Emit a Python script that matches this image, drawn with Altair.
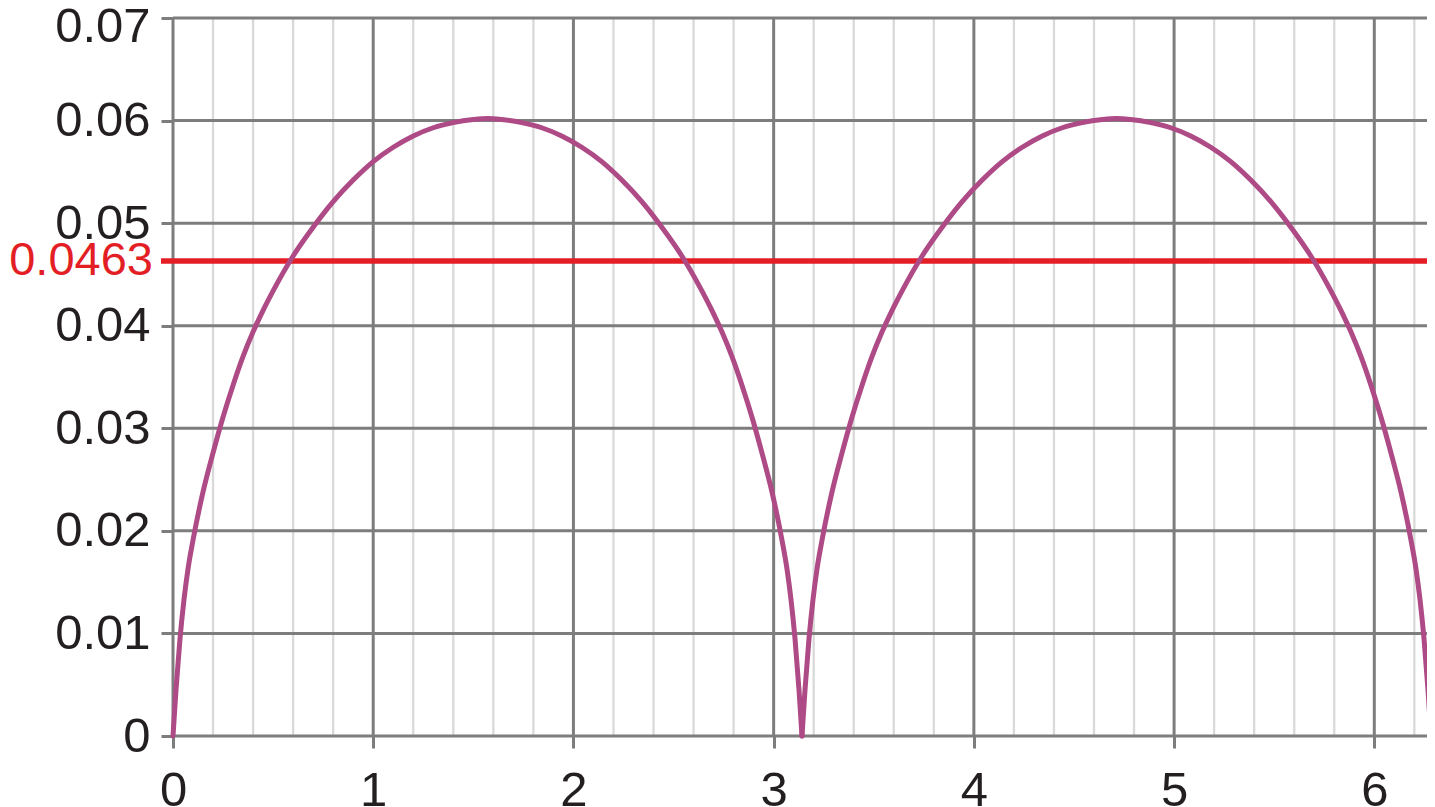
import altair as alt
import pandas as pd

# ---- data ----
hump1_x = [0, 0.015, 0.035, 0.055, 0.075, 0.1, 0.15, 0.2, 0.25, 0.3, 0.35, 0.4, 0.45, 0.5,
           0.6, 0.7, 0.8, 0.9, 1.0, 1.1, 1.2, 1.3, 1.4, 1.5, 1.5708,
           1.6416, 1.7416, 1.8416, 1.9416, 2.0416, 2.1416, 2.2416, 2.3416, 2.4416, 2.5416, 2.6416, 2.6916,
           2.7416, 2.7916, 2.8416, 2.8916, 2.9416, 2.9916, 3.0416, 3.0666, 3.0866, 3.1066, 3.1266, 3.1416]
hump1_y = [0, 0.0045, 0.0095, 0.0133, 0.0163, 0.0191, 0.0238, 0.0276, 0.0311, 0.0342, 0.0370, 0.0394, 0.0415, 0.0434,
           0.0468, 0.0496, 0.0521, 0.0542, 0.0560, 0.0574, 0.0585, 0.0593, 0.0598, 0.0601, 0.0602,
           0.0601, 0.0598, 0.0593, 0.0585, 0.0574, 0.0560, 0.0542, 0.0521, 0.0496, 0.0468, 0.0434, 0.0415,
           0.0394, 0.0370, 0.0342, 0.0311, 0.0276, 0.0238, 0.0191, 0.0163, 0.0133, 0.0095, 0.0045, 0]
hump2_x = [3.1416, 3.1566, 3.1766, 3.1966, 3.2166, 3.2416, 3.2916, 3.3416, 3.3916, 3.4416, 3.4916, 3.5416, 3.5916, 3.6416,
           3.7416, 3.8416, 3.9416, 4.0416, 4.1416, 4.2416, 4.3416, 4.4416, 4.5416, 4.6416, 4.7124,
           4.7832, 4.8832, 4.9832, 5.0832, 5.1832, 5.2832, 5.3832, 5.4832, 5.5832, 5.6832, 5.7832, 5.8332,
           5.8832, 5.9332, 5.9832, 6.0332, 6.0832, 6.1332, 6.1832, 6.2082, 6.2282, 6.2482, 6.2682, 6.2832]
hump2_y = [0, 0.0045, 0.0095, 0.0133, 0.0163, 0.0191, 0.0238, 0.0276, 0.0311, 0.0342, 0.0370, 0.0394, 0.0415, 0.0434,
           0.0468, 0.0496, 0.0521, 0.0542, 0.0560, 0.0574, 0.0585, 0.0593, 0.0598, 0.0601, 0.0602,
           0.0601, 0.0598, 0.0593, 0.0585, 0.0574, 0.0560, 0.0542, 0.0521, 0.0496, 0.0468, 0.0434, 0.0415,
           0.0394, 0.0370, 0.0342, 0.0311, 0.0276, 0.0238, 0.0191, 0.0163, 0.0133, 0.0095, 0.0045, 0]

x_ticks = [0, 1, 2, 3, 4, 5, 6]
x_minor = [0.2, 0.4, 0.6, 0.8, 1.2, 1.4, 1.6, 1.8, 2.2, 2.4, 2.6, 2.8, 3.2, 3.4, 3.6, 3.8,
           4.2, 4.4, 4.6, 4.8, 5.2, 5.4, 5.6, 5.8, 6.2]
y_ticks = [0, 0.01, 0.02, 0.03, 0.04, 0.05, 0.06, 0.07]
ref_value = [0.0463]
ref_label = ["0.0463"]

# ---- styles ----
FONT = "Liberation Sans"
MAJOR = "#7d7d7d"
MINOR = "#d9d9d9"
TXT = "#231f20"
CURVE = "#ae4a85"
RED = "#e31e24"
W, H = 1254, 718
RANGE_W = 1258

curve_df = pd.DataFrame({
    "x": hump1_x + hump2_x,
    "y": hump1_y + hump2_y,
    "hump": ["a"] * len(hump1_x) + ["b"] * len(hump2_x),
})
minor_df = pd.DataFrame({"x": x_minor})
xt_df = pd.DataFrame({"x": x_ticks})
yt_df = pd.DataFrame({"y": y_ticks})
ref_df = pd.DataFrame({"y": ref_value, "label": ref_label})

xscale = alt.Scale(domain=[0, 6.2832], range=[0, RANGE_W], nice=False, zero=False)
yscale = alt.Scale(domain=[0, 0.07], nice=False, zero=False)

x_axis = alt.Axis(values=x_ticks, format="d", grid=False, domain=False, ticks=True,
                  tickSize=12, tickWidth=3, tickColor=MAJOR, labelFont=FONT,
                  labelFontSize=49, labelColor=TXT, labelPadding=18, title=None,
                  labelFlush=False, labelOverlap=False)
y_axis = alt.Axis(values=y_ticks, format="~g", grid=False, domain=False, ticks=True,
                  tickSize=12, tickWidth=3, tickColor=MAJOR, labelFont=FONT,
                  labelFontSize=49, labelColor=TXT, labelPadding=11, title=None,
                  labelFlush=False, labelOverlap=False, labelBaseline="middle",
                  labelOffset=alt.condition("datum.value > 0.065", alt.value(8), alt.value(0)))

X = alt.X("x:Q", scale=xscale, axis=x_axis)
Y = alt.Y("y:Q", scale=yscale, axis=y_axis)

minor_rules = alt.Chart(minor_df).mark_rule(color=MINOR, strokeWidth=2.3).encode(x=X)
major_v = alt.Chart(xt_df).mark_rule(color=MAJOR, strokeWidth=3).encode(x=X)
major_h = alt.Chart(yt_df).mark_rule(color=MAJOR, strokeWidth=3).encode(
    y=Y, x=alt.value(0), x2=alt.value(RANGE_W))

ref_line = alt.Chart(ref_df).mark_rule(color=RED, strokeWidth=5.5).encode(
    y=Y, x=alt.value(-12), x2=alt.value(RANGE_W))
ref_text = alt.Chart(ref_df).mark_text(
    color=RED, font=FONT, fontSize=47, align="right", baseline="middle"
).encode(y=Y, x=alt.value(-20), text="label:N")

curve = alt.Chart(curve_df).mark_line(
    color=CURVE, strokeWidth=5, interpolate="monotone", strokeCap="round"
).encode(x=X, y=Y, detail="hump:N")

chart = alt.layer(minor_rules, major_v, major_h, ref_line, curve, ref_text).properties(
    width=W, height=H,
    padding={"left": 165, "top": 10, "right": 0, "bottom": 75},
    autosize=alt.AutoSizeParams(type="none"),
    background="white",
).configure_view(stroke=None)

chart.save("out.html", embed_options={"renderer": "svg", "actions": False})
